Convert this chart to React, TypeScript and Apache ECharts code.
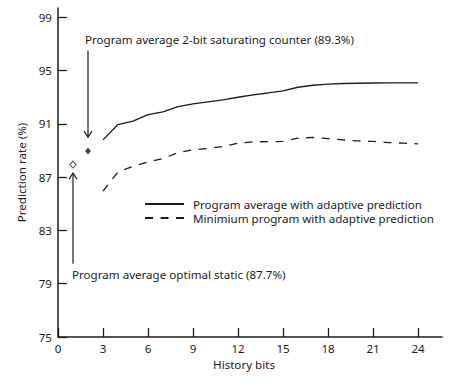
import React, { useEffect, useRef } from "react";
import * as echarts from "echarts";

const historyBits = [3, 4, 5, 6, 7, 8, 9, 10, 11, 12, 13, 14, 15, 16, 17, 18, 19, 20, 21, 22, 23, 24];
const avgAdaptive = [89.8, 90.95, 91.2, 91.7, 91.9, 92.3, 92.5, 92.65, 92.8, 93.0, 93.18, 93.32, 93.48, 93.75, 93.9, 93.98, 94.03, 94.05, 94.07, 94.08, 94.08, 94.08];
const minAdaptive = [85.95, 87.4, 87.8, 88.15, 88.4, 88.85, 89.05, 89.15, 89.3, 89.55, 89.65, 89.67, 89.68, 89.93, 89.98, 89.9, 89.8, 89.72, 89.68, 89.6, 89.55, 89.5];
const counterPoint = [2, 88.97];
const staticPoint = [1, 87.95];
const yTicks = [75, 79, 83, 87, 91, 95, 99];
const xTicks = [0, 3, 6, 9, 12, 15, 18, 21, 24];
const seriesNames = ["Program average with adaptive prediction", "Minimium program with adaptive prediction"];
const counterLabel = "Program average 2-bit saturating counter (89.3%)";
const staticLabel = "Program average optimal static (87.7%)";

const FONT = "Noto Sans";
const FS = 11.6;
const INK = "#1c1c1c";

export default function App() {
  const ref = useRef<HTMLDivElement>(null);
  useEffect(() => {
    if (!ref.current) return;
    const chart = echarts.init(ref.current, undefined, { renderer: "svg" });
    const axisCommon = {
      axisLine: { show: true, lineStyle: { color: INK, width: 1.5 } },
      splitLine: { show: false },
    };
    chart.setOption({
      animation: false,
      backgroundColor: "#ffffff",
      textStyle: { fontFamily: FONT, color: INK },
      grid: { left: 58, right: 14, top: 8, bottom: 47, containLabel: false },
      legend: {
        data: seriesNames,
        orient: "vertical",
        left: 139,
        top: 193,
        itemWidth: 39,
        itemHeight: 12,
        itemGap: 2,
        itemStyle: { color: "transparent", borderWidth: 0, opacity: 0 },
        textStyle: { fontFamily: FONT, fontSize: FS, color: INK, padding: [0, 0, 0, 4] },
        selectedMode: false,
      },
      xAxis: {
        type: "value",
        min: 0,
        max: 25.6,
        name: "History bits",
        nameLocation: "middle",
        nameGap: 19,
        nameTextStyle: { fontFamily: FONT, fontSize: FS, color: INK, padding: [0, 12, 0, 0] },
        ...axisCommon,
        axisTick: { show: true, inside: true, length: 9, customValues: xTicks, lineStyle: { color: INK, width: 1.3 } },
        axisLabel: { customValues: xTicks, margin: 5, fontFamily: FONT, fontSize: FS, color: INK },
      },
      yAxis: {
        type: "value",
        min: 75,
        max: 99.7,
        name: "Prediction rate (%)",
        nameLocation: "middle",
        nameGap: 26,
        nameTextStyle: { fontFamily: FONT, fontSize: FS, color: INK },
        ...axisCommon,
        axisTick: { show: true, inside: true, length: 9, customValues: yTicks, lineStyle: { color: INK, width: 1.3 } },
        axisLabel: { customValues: yTicks, margin: 6, fontFamily: FONT, fontSize: FS, color: INK },
      },
      series: [
        {
          name: seriesNames[0],
          type: "line",
          data: historyBits.map((b, i) => [b, avgAdaptive[i]]),
          symbol: "none",
          lineStyle: { color: INK, width: 1.3, type: "solid" },
          itemStyle: { color: INK },
        },
        {
          name: seriesNames[1],
          type: "line",
          data: historyBits.map((b, i) => [b, minAdaptive[i]]),
          symbol: "none",
          lineStyle: { color: INK, width: 1.3, type: [8, 7.5] },
          itemStyle: { color: INK },
        },
        {
          name: "counter",
          type: "scatter",
          data: [counterPoint],
          symbol: "diamond",
          symbolSize: [6, 7],
          itemStyle: { color: INK },
        },
        {
          name: "static",
          type: "scatter",
          data: [staticPoint],
          symbol: "diamond",
          symbolSize: [6, 7],
          itemStyle: { color: "#ffffff", borderColor: INK, borderWidth: 1 },
        },
      ],
    });

    const p = (x: number, y: number) => chart.convertToPixel({ gridIndex: 0 }, [x, y]) as number[];
    const downTop = p(counterPoint[0], 96.5);
    const downTip = p(counterPoint[0], 90.0);
    const upTip = p(staticPoint[0], 87.3);
    const upBottom = p(staticPoint[0], 80.5);
    const ls = { stroke: INK, lineWidth: 1.2, fill: null };
    chart.setOption({
      graphic: [
        { type: "line", shape: { x1: downTop[0], y1: downTop[1], x2: downTip[0], y2: downTip[1] }, style: ls },
        { type: "polyline", shape: { points: [[downTip[0] - 4, downTip[1] - 6], [downTip[0], downTip[1]], [downTip[0] + 4, downTip[1] - 6]] }, style: ls },
        { type: "line", shape: { x1: upBottom[0], y1: upBottom[1], x2: upTip[0], y2: upTip[1] }, style: ls },
        { type: "polyline", shape: { points: [[upTip[0] - 4, upTip[1] + 6], [upTip[0], upTip[1]], [upTip[0] + 4, upTip[1] + 6]] }, style: ls },
        { type: "text", x: downTop[0] - 3, y: downTop[1] - 11, style: { text: counterLabel, fontFamily: FONT, fontSize: FS, fill: INK, verticalAlign: "middle" } },
        { type: "text", x: upBottom[0] - 1, y: upBottom[1] + 11, style: { text: staticLabel, fontFamily: FONT, fontSize: FS, fill: INK, verticalAlign: "middle" } },
      ],
    });
    return () => chart.dispose();
  }, []);
  return <div ref={ref} style={{ width: 456, height: 384, position: "absolute", left: 0, top: 0 }} />;
}
